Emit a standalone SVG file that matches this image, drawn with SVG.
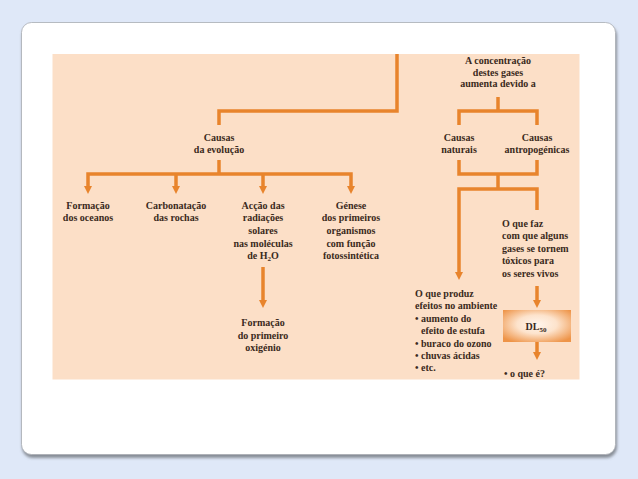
<svg xmlns="http://www.w3.org/2000/svg" width="638" height="479" viewBox="0 0 638 479">
<defs>
<style>
.t{font-family:"Liberation Serif","Times New Roman",serif;font-size:10px;fill:#3a2a20;font-weight:bold}
.c{text-anchor:middle}
.ln{fill:none;stroke:#e8842c;stroke-width:3.5;stroke-linejoin:miter}
.ar{marker-end:url(#ah)}
.ars{marker-start:url(#ahs)}
</style>
<marker id="ah" viewBox="0 0 8 8" refX="3" refY="4" markerWidth="8" markerHeight="8" markerUnits="userSpaceOnUse" orient="auto"><path d="M0,0 L8,4 L0,8 z" fill="#e8842c"/></marker>
<marker id="ahs" viewBox="0 0 8 8" refX="3" refY="4" markerWidth="8" markerHeight="8" markerUnits="userSpaceOnUse" orient="auto-start-reverse"><path d="M0,0 L8,4 L0,8 z" fill="#e8842c"/></marker>
<radialGradient id="dlg" cx="0.5" cy="0.45" r="0.65">
<stop offset="0" stop-color="#fff6ee"/>
<stop offset="0.45" stop-color="#fde3cc"/>
<stop offset="1" stop-color="#ee9448"/>
</radialGradient>
<filter id="sh" x="-5%" y="-5%" width="110%" height="115%">
<feDropShadow dx="1" dy="3" stdDeviation="1.5" flood-color="#6f747c" flood-opacity="0.8"/>
</filter>
</defs>
<rect width="638" height="479" fill="#dfe8f8"/>
<rect x="21.5" y="22.5" width="594" height="432" rx="10" fill="#ffffff" stroke="#a8acb2" stroke-width="0.8" filter="url(#sh)"/>
<rect x="52.5" y="54" width="527" height="325.5" fill="#fcdfc7"/>

<g id="connectors">
<path class="ln" d="M397,54 V111 H219 V125"/>
<path class="ln" d="M219,160 V174"/>
<path class="ln ars ar" d="M88,189 V174 H351 V189"/>
<path class="ln ar" d="M176,174 V189"/>
<path class="ln ar" d="M263,174 V189"/>
<path class="ln ar" d="M263,267 V303"/>
<path class="ln" d="M498,97 V111"/>
<path class="ln" d="M459,125 V111 H537 V125"/>
<path class="ln" d="M459,160 V174 H537 V160"/>
<path class="ln" d="M498,174 V189"/>
<path class="ln ars" d="M459,275 V189 H537 V210"/>
<path class="ln ar" d="M537,286 V303"/>
<path class="ln ar" d="M537,342 V355"/>
</g>

<g id="causas-evolucao"><text class="t c" x="219" y="140.5">Causas</text><text class="t c" x="219" y="153">da evolução</text></g>
<g id="formacao-oceanos"><text class="t c" x="88" y="208.5">Formação</text><text class="t c" x="88" y="221.2">dos oceanos</text></g>
<g id="carbonatacao"><text class="t c" x="176" y="208.5">Carbonatação</text><text class="t c" x="176" y="221.2">das rochas</text></g>
<g id="accao-radiacoes">
<text class="t c" x="263" y="208.5">Acção das</text>
<text class="t c" x="263" y="221.2">radiações</text>
<text class="t c" x="263" y="233.9">solares</text>
<text class="t c" x="263" y="246.6">nas moléculas</text>
<text class="t c" x="263" y="259.3">de H<tspan font-size="7" dy="2">2</tspan><tspan dy="-2">O</tspan></text>
</g>
<g id="genese">
<text class="t c" x="351" y="208.5">Génese</text>
<text class="t c" x="351" y="221.2">dos primeiros</text>
<text class="t c" x="351" y="233.9">organismos</text>
<text class="t c" x="351" y="246.6">com função</text>
<text class="t c" x="351" y="259.3">fotossintética</text>
</g>
<g id="formacao-oxigenio">
<text class="t c" x="263" y="326">Formação</text>
<text class="t c" x="263" y="338.7">do primeiro</text>
<text class="t c" x="263" y="351.4">oxigénio</text>
</g>
<g id="concentracao">
<text class="t c" x="498" y="63.5">A concentração</text>
<text class="t c" x="498" y="75.5">destes gases</text>
<text class="t c" x="498" y="87">aumenta devido a</text>
</g>
<g id="causas-naturais"><text class="t c" x="459" y="140.5">Causas</text><text class="t c" x="459" y="153">naturais</text></g>
<g id="causas-antropogenicas"><text class="t c" x="537" y="140.5">Causas</text><text class="t c" x="537" y="153">antropogénicas</text></g>
<g id="o-que-faz">
<text class="t" x="502" y="226.5">O que faz</text>
<text class="t" x="502" y="239">com que alguns</text>
<text class="t" x="502" y="251.5">gases se tornem</text>
<text class="t" x="502" y="264">tóxicos para</text>
<text class="t" x="502" y="276.5">os seres vivos</text>
</g>
<g id="o-que-produz">
<text class="t" x="415" y="296.5">O que produz</text>
<text class="t" x="415" y="309">efeitos no ambiente</text>
<text class="t" x="415" y="321.5">• aumento do</text>
<text class="t" x="421" y="334">efeito de estufa</text>
<text class="t" x="415" y="346.5">• buraco do ozono</text>
<text class="t" x="415" y="359">• chuvas ácidas</text>
<text class="t" x="415" y="371">• etc.</text>
</g>
<g id="dl50">
<rect x="503" y="310" width="68" height="32" fill="url(#dlg)"/>
<text class="t c" x="536" y="329.5">DL<tspan font-size="7" dy="2">50</tspan></text>
</g>
<g id="o-que-e"><text class="t" x="504" y="376.5">• o que é?</text></g>
</svg>
